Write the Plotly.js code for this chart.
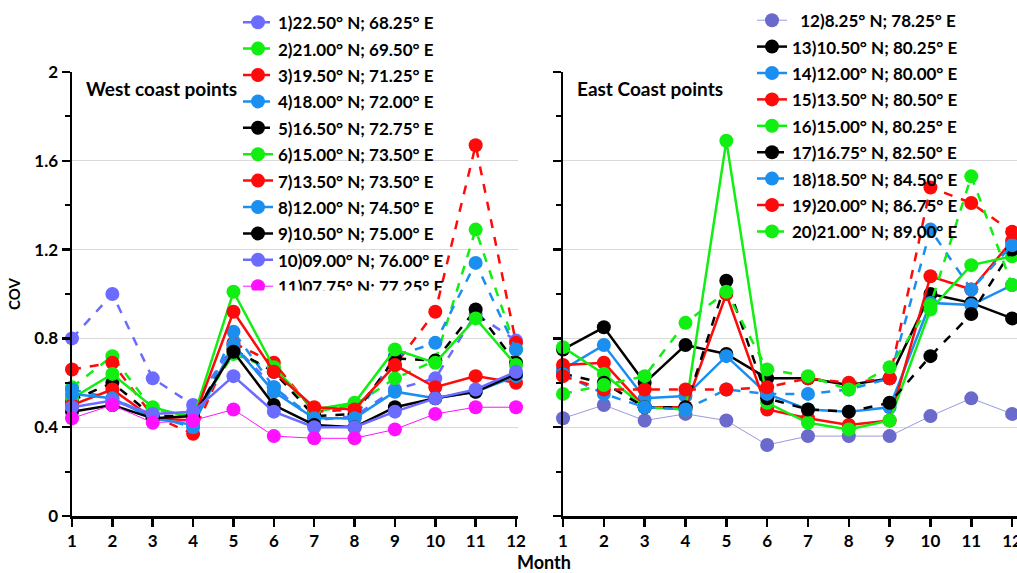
<!DOCTYPE html>
<html>
<head>
<meta charset="utf-8">
<script src="https://cdn.plot.ly/plotly-3.0.1.min.js"></script>
<style>html,body{margin:0;padding:0;background:#fff;}#chart{width:1017px;height:573px;}</style>
</head>
<body>
<div id="chart"></div>
<script>
const months = [1,2,3,4,5,6,7,8,9,10,11,12];

// West coast series
const westNames = ["1)22.50° N; 68.25° E","2)21.00° N; 69.50° E","3)19.50° N; 71.25° E","4)18.00° N; 72.00° E","5)16.50° N; 72.75° E","6)15.00° N; 73.50° E","7)13.50° N; 73.50° E","8)12.00° N; 74.50° E","9)10.50° N; 75.00° E","10)09.00° N; 76.00° E","11)07.75° N; 77.25° E"];
const w1  = [0.80, 1.00, 0.62, 0.50, 0.77, 0.58, 0.43, 0.45, 0.57, 0.62, 0.91, 0.79];
const w2  = [0.58, 0.72, 0.48, 0.45, 0.73, 0.66, 0.47, 0.50, 0.62, 0.70, 1.29, 0.75];
const w3  = [0.66, 0.69, 0.45, 0.37, 0.78, 0.69, 0.47, 0.48, 0.68, 0.92, 1.67, 0.78];
const w4  = [0.57, 0.53, 0.45, 0.40, 0.83, 0.58, 0.44, 0.44, 0.72, 0.78, 1.14, 0.75];
const w5  = [0.52, 0.60, 0.45, 0.45, 0.75, 0.65, 0.45, 0.46, 0.71, 0.70, 0.93, 0.69];
const w6  = [0.53, 0.64, 0.49, 0.44, 1.01, 0.67, 0.48, 0.51, 0.75, 0.69, 0.89, 0.68];
const w7  = [0.50, 0.57, 0.44, 0.43, 0.92, 0.65, 0.49, 0.48, 0.68, 0.58, 0.63, 0.60];
const w8  = [0.55, 0.53, 0.44, 0.41, 0.77, 0.56, 0.44, 0.44, 0.56, 0.53, 0.56, 0.63];
const w9  = [0.47, 0.50, 0.44, 0.45, 0.74, 0.50, 0.41, 0.40, 0.49, 0.53, 0.56, 0.64];
const w10 = [0.49, 0.52, 0.46, 0.47, 0.63, 0.47, 0.40, 0.40, 0.47, 0.53, 0.57, 0.65];
const w11 = [0.44, 0.50, 0.42, 0.43, 0.48, 0.36, 0.35, 0.35, 0.39, 0.46, 0.49, 0.49];

// East coast series
const eastNames = ["\u00a0\u00a012)8.25° N; 78.25° E","13)10.50° N; 80.25° E","14)12.00° N; 80.00° E","15)13.50° N; 80.50° E","16)15.00° N, 80.25° E","17)16.75° N, 82.50° E","18)18.50° N; 84.50° E","19)20.00° N; 86.75° E","20)21.00° N; 89.00° E"];
const e12 = [0.44, 0.50, 0.43, 0.46, 0.43, 0.32, 0.36, 0.36, 0.36, 0.45, 0.53, 0.46];
const e13 = [0.75, 0.85, 0.60, 0.77, 0.73, 0.62, 0.62, 0.59, 0.62, 1.00, 0.96, 0.89];
const e14 = [0.66, 0.77, 0.53, 0.54, 0.72, 0.55, 0.48, 0.47, 0.49, 0.96, 0.95, 1.04];
const e15 = [0.68, 0.69, 0.49, 0.49, 1.00, 0.48, 0.44, 0.41, 0.43, 1.08, 1.02, 1.24];
const e16 = [0.76, 0.64, 0.49, 0.48, 1.69, 0.51, 0.42, 0.39, 0.43, 0.93, 1.13, 1.17];
const e17 = [0.64, 0.60, 0.49, 0.49, 1.06, 0.53, 0.48, 0.47, 0.51, 0.72, 0.91, 1.20];
const e18 = [0.64, 0.55, 0.49, 0.48, 0.57, 0.55, 0.55, 0.57, 0.62, 1.29, 1.02, 1.22];
const e19 = [0.63, 0.57, 0.57, 0.57, 0.57, 0.58, 0.62, 0.60, 0.62, 1.48, 1.41, 1.28];
const e20 = [0.55, 0.59, 0.63, 0.87, 1.01, 0.66, 0.63, 0.57, 0.67, 0.95, 1.53, 1.04];

const yTickVals = [0, 0.4, 0.8, 1.2, 1.6, 2];
const yTickText = ["0", "0.4", "0.8", "1.2", "1.6", "2"];

const westData = [w1,w2,w3,w4,w5,w6,w7,w8,w9,w10,w11];
const eastData = [e12,e13,e14,e15,e16,e17,e18,e19,e20];

const PURPLE = "#6b6bff", GREEN = "#11ee11", RED = "#ff0a0a", BLUE = "#1a8ff0", BLACK = "#000000", MAGENTA = "#ff11ff";
const westStyle = [
  [PURPLE,"dash",2.5],[GREEN,"dash",2.5],[RED,"dash",2.5],[BLUE,"dash",2.5],[BLACK,"dash",2.5],
  [GREEN,"solid",2.5],[RED,"solid",2.5],[BLUE,"solid",2.5],[BLACK,"solid",2.5],[PURPLE,"solid",2.5],[MAGENTA,"solid",1]
];
const eastStyle = [
  ["#6a6acc","solid",1],[BLACK,"solid",2.5],[BLUE,"solid",2.5],[RED,"solid",2.5],[GREEN,"solid",2.5],
  [BLACK,"dash",2.5],[BLUE,"dash",2.5],[RED,"dash",2.5],[GREEN,"dash",2.5]
];

const traces = [];
function lbl(s){ return '<span style="font-size:17px">' + s + '</span>'; }
westData.forEach((d,i)=>{
  const st = westStyle[i];
  traces.push({x: months, y: d, type:"scatter", mode:"lines+markers", name: lbl(westNames[i]),
    xaxis:"x", yaxis:"y", legend:"legend", cliponaxis:false,
    line:{color: st[0], dash: st[1], width: st[2]},
    marker:{color: st[0], size:14, line:{width:0}}});
});
eastData.forEach((d,i)=>{
  const st = eastStyle[i];
  traces.push({x: months, y: d, type:"scatter", mode:"lines+markers", name: lbl(eastNames[i]),
    xaxis:"x2", yaxis:"y2", legend:"legend2", cliponaxis:false,
    line:{color: i===0 ? "#9a9ae0" : st[0], dash: st[1], width: st[2]},
    marker:{color: st[0], size:14, line:{width:0}}});
});

const FONT = "Lato, 'Open Sans', sans-serif";
const tickFont = {family: FONT, size: 17, color:"#000", weight:"bold"};
const xBase = {tickmode:"array", tickvals: months, ticks:"outside", ticklen:8, tickwidth:2.5, tickcolor:"#000",
  showline:true, linecolor:"#000", linewidth:2.5, showgrid:false, zeroline:false, tickfont: tickFont, tickangle:0,
  automargin:false, ticklabeloverflow:"allow"};
const yBase = {range:[0,2], tickmode:"array", tickvals: yTickVals, ticktext: yTickText,
  ticks:"outside", ticklen:8, tickwidth:2.5, tickcolor:"#000", showline:true, linecolor:"#000", linewidth:2.5,
  showgrid:true, gridcolor:"#d9d9d9", gridwidth:1, zeroline:false, tickfont: tickFont, automargin:false,
  minor:{tickmode:"linear", tick0:0, dtick:0.2, ticks:"outside", ticklen:5, tickwidth:2, tickcolor:"#000", showgrid:false}};

const PW = 945, PH = 444, ML = 72, MT = 72;
const legendBase = {bgcolor:"rgba(0,0,0,0)", font:{family: FONT, size:18, color:"#000", weight:"bold"},
  xref:"paper", yref:"paper", xanchor:"left", yanchor:"top", traceorder:"normal", itemwidth:30, tracegroupgap:0};

const layout = {
  width:1017, height:573, paper_bgcolor:"#fff", plot_bgcolor:"#fff",
  margin:{l:ML, r:0, t:MT, b:57, autoexpand:false},
  font:{family: FONT, color:"#000"},
  showlegend:true,
  xaxis: Object.assign({}, xBase, {domain:[0, 0.472], range:[1, 12.05], anchor:"y"}),
  yaxis: Object.assign({}, yBase, {domain:[0,1], anchor:"x",
    title:{text:"COV", font:{family: FONT, size:15, weight:"bold"}, standoff:10}}),
  xaxis2: Object.assign({}, xBase, {domain:[0.5196, 1], range:[1, 12.12], anchor:"y2"}),
  yaxis2: Object.assign({}, yBase, {domain:[0,1], anchor:"x2", showticklabels:false}),
  legend: Object.assign({}, legendBase, {x: (238-ML)/PW, y: (516-4)/PH}),
  legend2: Object.assign({}, legendBase, {x: (752-ML)/PW, y: (516-2)/PH}),
  annotations:[
    {text:"West coast points", xref:"x", yref:"paper", x:1.3, y:(516-75)/PH, xanchor:"left", yanchor:"top", showarrow:false,
     font:{family: FONT, size:19, weight:"bold", color:"#000"}},
    {text:"East Coast points", xref:"x2", yref:"paper", x:1.3, y:(516-75)/PH, xanchor:"left", yanchor:"top", showarrow:false,
     font:{family: FONT, size:19, weight:"bold", color:"#000"}},
    {text:"Month", xref:"paper", yref:"paper", x:(544-ML)/PW, y:(516-562)/PH, xanchor:"center", yanchor:"middle", showarrow:false,
     font:{family: FONT, size:18, weight:"bold", color:"#000"}}
  ]
};

Plotly.newPlot("chart", traces, layout, {displayModeBar:false, staticPlot:true});
</script>
</body>
</html>
